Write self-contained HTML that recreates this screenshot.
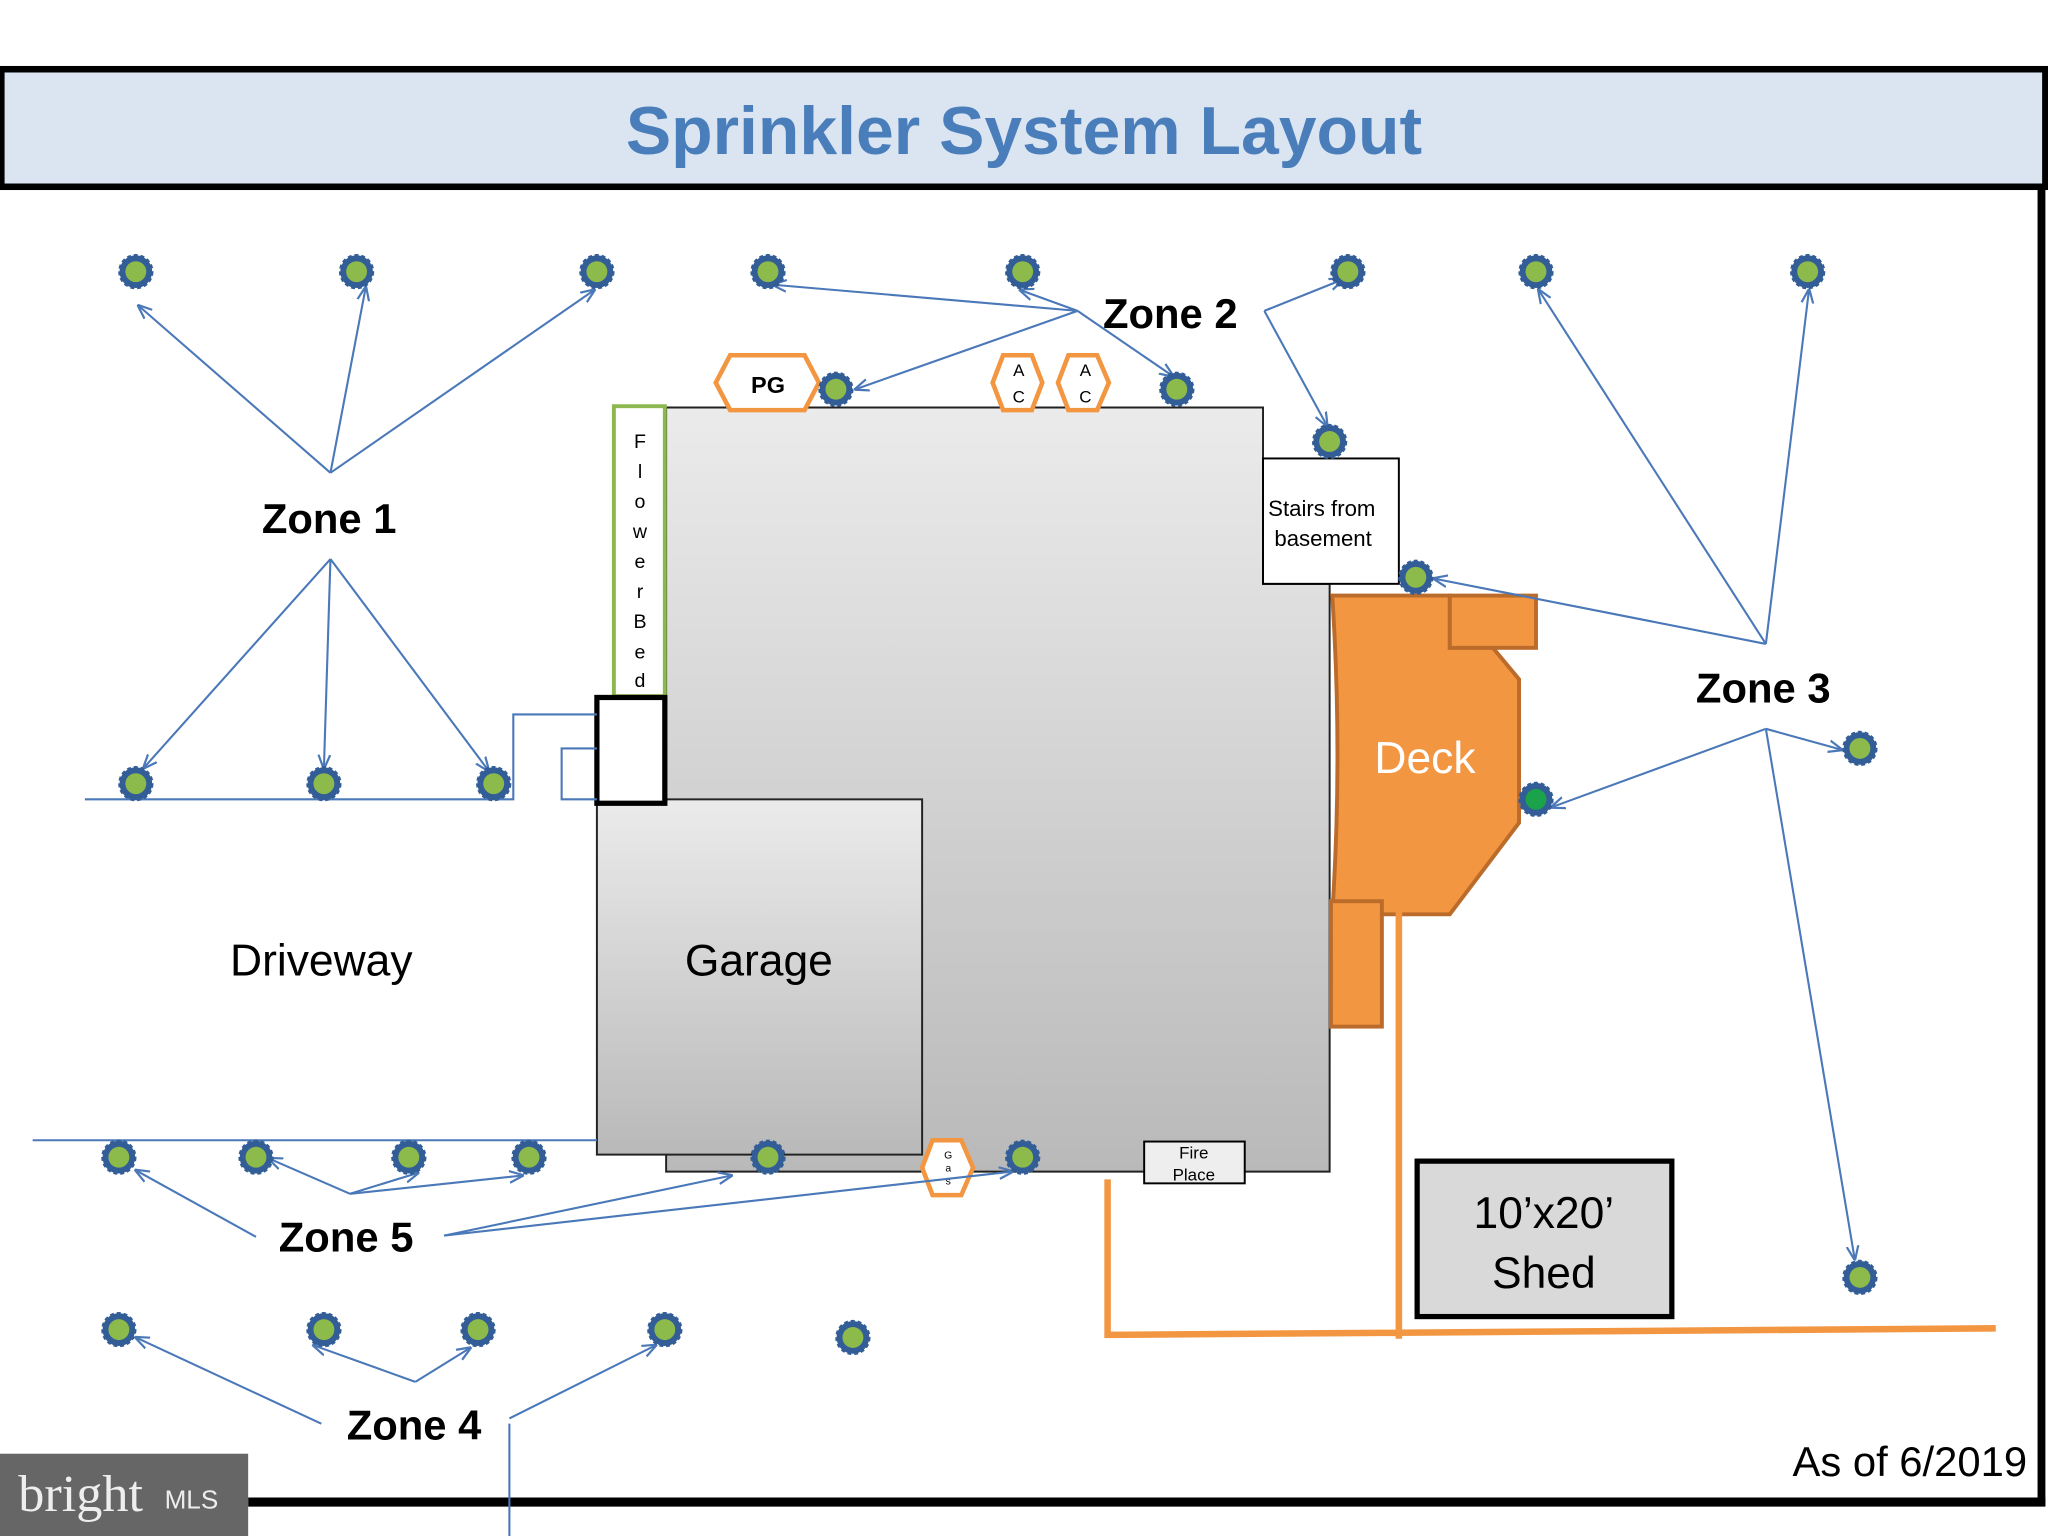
<!DOCTYPE html>
<html><head><meta charset="utf-8"><style>html,body{margin:0;padding:0;background:#fff}svg{display:block}</style></head>
<body>
<svg width="2048" height="1536" viewBox="0 0 1568 1176" xmlns="http://www.w3.org/2000/svg" font-family="'Liberation Sans', sans-serif">
<defs>
<linearGradient id="g" x1="0" y1="0" x2="0" y2="1"><stop offset="0" stop-color="#ebebeb"/><stop offset="1" stop-color="#b9b9b9"/></linearGradient>
<marker id="a" viewBox="0 0 10 10" refX="9" refY="5" markerWidth="7" markerHeight="7" orient="auto"><path d="M0,1 L10,5 L0,9" fill="none" stroke="#4a78b8" stroke-width="1.5"/></marker>
<g id="s"><circle r="12.5" fill="#335d96" stroke="#335d96" stroke-width="2" stroke-dasharray="3 2.2"/><circle r="8" fill="#8cba4b"/></g>
<g id="s2"><circle r="12.5" fill="#335d96" stroke="#335d96" stroke-width="2" stroke-dasharray="3 2.2"/><circle r="8" fill="#1aa34a"/></g>
</defs>
<rect width="1568" height="1176" fill="#fff"/>
<rect x="1" y="53" width="1565" height="90" fill="#dbe5f1" stroke="#000" stroke-width="5"/>
<text x="784" y="118" text-anchor="middle" font-size="52" font-weight="bold" fill="#4a7ebb">Sprinkler System Layout</text>
<line x1="1563" y1="143" x2="1563" y2="1153" stroke="#000" stroke-width="6"/>
<line x1="190" y1="1150" x2="1566" y2="1150" stroke="#000" stroke-width="7"/>
<path d="M510,312 L967,312 L967,447 L1018,447 L1018,897 L510,897 Z" fill="url(#g)" stroke="#222" stroke-width="1.5"/>
<rect x="457" y="612" width="249" height="272" fill="url(#g)" stroke="#222" stroke-width="1.5"/>
<text x="581" y="747" text-anchor="middle" font-size="34">Garage</text>
<rect x="470" y="311" width="39" height="222" fill="#fff" stroke="#8cb84f" stroke-width="3"/>
<g font-size="15" text-anchor="middle"><text x="490" y="343">F</text><text x="490" y="366">l</text><text x="490" y="389">o</text><text x="490" y="412">w</text><text x="490" y="435">e</text><text x="490" y="458">r</text><text x="490" y="481">B</text><text x="490" y="504">e</text><text x="490" y="526">d</text></g>
<rect x="457" y="534" width="52" height="81" fill="#fff" stroke="#000" stroke-width="4"/>
<rect x="967" y="351" width="104" height="96" fill="#fff" stroke="#000" stroke-width="1.5"/>
<text x="1012" y="395" text-anchor="middle" font-size="17">Stairs from</text>
<text x="1013" y="418" text-anchor="middle" font-size="17">basement</text>
<rect x="876" y="874" width="77" height="32" fill="#eee" stroke="#000" stroke-width="1.5"/>
<text x="914" y="887" text-anchor="middle" font-size="13">Fire</text><text x="914" y="904" text-anchor="middle" font-size="13">Place</text>
<path d="M1020,456 L1110,456 L1110,496 L1143,496 L1163,520 L1163,630 L1110,700 L1020,700 Q1028,578 1020,456 Z" fill="#f39642" stroke="#bb6b2a" stroke-width="3"/>
<rect x="1110" y="456" width="66" height="40" fill="#f39642" stroke="#bb6b2a" stroke-width="3"/>
<rect x="1019" y="690" width="39" height="96" fill="#f39642" stroke="#bb6b2a" stroke-width="3"/>
<text x="1091" y="592" text-anchor="middle" font-size="34" fill="#fff">Deck</text>
<path d="M848,903 L848,1022 L1528,1017 M1071,693 L1071,1025" fill="none" stroke="#f39642" stroke-width="5"/>
<rect x="1085" y="889" width="195" height="119" fill="#d9d9d9" stroke="#000" stroke-width="4"/>
<text x="1182" y="940" text-anchor="middle" font-size="34">10’x20’</text>
<text x="1182" y="986" text-anchor="middle" font-size="34">Shed</text>
<text x="246" y="747" text-anchor="middle" font-size="34">Driveway</text>
<g fill="#fff" stroke="#f39642" stroke-width="3.5">
<polygon points="559,272 616,272 627,293 616,314 559,314 548,293"/>
<polygon points="768,272 790,272 798,293 790,314 768,314 760,293"/>
<polygon points="818,272 840,272 849,293 840,314 818,314 810,293"/>
<polygon points="714,873 736,873 745,894 736,915 714,915 706,894"/>
</g>
<text x="588" y="301" text-anchor="middle" font-size="18" font-weight="bold">PG</text>
<g font-size="13" text-anchor="middle"><text x="780" y="288">A</text><text x="780" y="308">C</text><text x="831" y="288">A</text><text x="831" y="308">C</text></g>
<g font-size="8" text-anchor="middle"><text x="726" y="887">G</text><text x="726" y="897">a</text><text x="726" y="907">s</text></g>
<g stroke="#4a78b8" stroke-width="1.6" fill="none">
<path d="M65,612 L393,612 L393,547 L457,547 M457,573 L430,573 L430,612 L457,612 M25,873 L457,873 M390,1090 L390,1176"/>
<g marker-end="url(#a)">
<path d="M253,362 L106,234"/><path d="M253,362 L280,220"/><path d="M253,362 L455,222"/>
<path d="M253,428 L110,588"/><path d="M253,428 L248,588"/><path d="M253,428 L374,590"/>
<path d="M825,238 L592,218"/><path d="M825,238 L655,298"/><path d="M825,238 L781,222"/><path d="M825,238 L898,288"/>
<path d="M968,238 L1028,214"/><path d="M968,238 L1016,326"/>
<path d="M1352,493 L1178,222"/><path d="M1352,493 L1385,222"/><path d="M1352,493 L1098,443"/>
<path d="M1352,558 L1188,618"/><path d="M1352,558 L1410,574"/><path d="M1352,558 L1420,964"/>
<path d="M268,914 L206,887"/><path d="M268,914 L320,898"/><path d="M268,914 L400,900"/>
<path d="M196,947 L104,896"/><path d="M340,946 L560,900"/><path d="M340,946 L775,897"/>
<path d="M318,1058 L240,1030"/><path d="M318,1058 L360,1032"/><path d="M246,1090 L104,1024"/><path d="M390,1086 L502,1030"/>
</g></g>
<g>
<use href="#s" x="104" y="208"/><use href="#s" x="273" y="208"/><use href="#s" x="457" y="208"/><use href="#s" x="588" y="208"/><use href="#s" x="783" y="208"/><use href="#s" x="1032" y="208"/><use href="#s" x="1176" y="208"/><use href="#s" x="1384" y="208"/>
<use href="#s" x="640" y="298"/><use href="#s" x="901" y="298"/><use href="#s" x="1018" y="338"/><use href="#s" x="1084" y="442"/>
<use href="#s" x="104" y="600"/><use href="#s" x="248" y="600"/><use href="#s" x="378" y="600"/>
<use href="#s2" x="1176" y="612"/><use href="#s" x="1424" y="573"/><use href="#s" x="1424" y="978"/>
<use href="#s" x="91" y="886"/><use href="#s" x="196" y="886"/><use href="#s" x="313" y="886"/><use href="#s" x="405" y="886"/><use href="#s" x="588" y="886"/><use href="#s" x="783" y="886"/>
<use href="#s" x="91" y="1018"/><use href="#s" x="248" y="1018"/><use href="#s" x="366" y="1018"/><use href="#s" x="509" y="1018"/><use href="#s" x="653" y="1024"/>
</g>
<g font-size="32" font-weight="bold" text-anchor="middle">
<text x="252" y="408">Zone 1</text><text x="896" y="251">Zone 2</text><text x="1350" y="538">Zone 3</text><text x="317" y="1102">Zone 4</text><text x="265" y="958">Zone 5</text>
</g>
<text x="1552" y="1130" text-anchor="end" font-size="32">As of 6/2019</text>
<rect x="0" y="1113" width="190" height="63" fill="#666"/>
<text x="14" y="1157" font-family="'Liberation Serif', serif" font-size="40" fill="#eee">bright</text>
<text x="126" y="1155" font-size="20" fill="#eee">MLS</text>
</svg>
</body></html>
